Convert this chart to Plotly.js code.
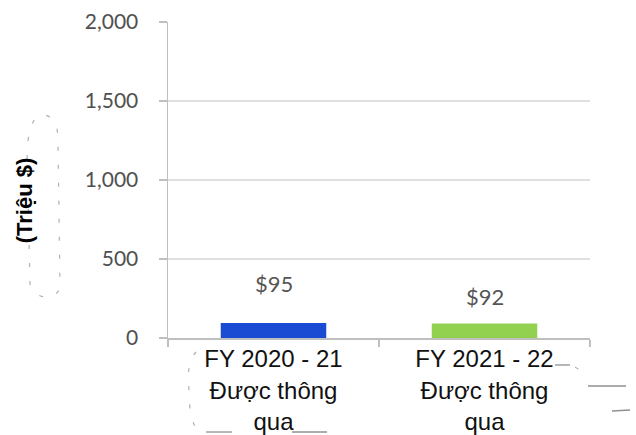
<!DOCTYPE html>
<html>
<head>
<meta charset="utf-8">
<script src="https://cdn.plot.ly/plotly-3.0.1.min.js"></script>
<style>html,body{margin:0;padding:0;background:#fff;}#chart{width:636px;height:435px;}</style>
</head>
<body>
<div id="chart"></div>
<script>
const categories = ["FY 2020 - 21<br>Được thông<br>qua", "FY 2021 - 22<br>Được thông<br>qua"];
const values = [95, 92];
const valueLabels = ["$95", "$92"];
const barColors = ["#1a4bd3", "#92d050"];
const yTickVals = [0, 500, 1000, 1500, 2000];
const yTickText = ["0", "500", "1,000", "1,500", "2,000"];
const yTitle = "(Triệu $)";

const labelShift = [39, 27];

const trace = {
  type: "bar",
  x: categories,
  y: values,
  marker: {color: barColors},
  width: 0.5,
  hoverinfo: "skip"
};

const annotations = values.map((v, i) => ({
  x: categories[i], y: v, xref: "x", yref: "y",
  text: valueLabels[i], showarrow: false,
  yshift: labelShift[i], yanchor: "middle",
  font: {family: "Lato, 'Open Sans', sans-serif", size: 22, color: "#555555"}
}));
annotations.push({
  xref: "paper", yref: "paper", x: -0.338, y: 0.437,
  text: "<b>" + yTitle + "</b>", textangle: -90, showarrow: false,
  xanchor: "center", yanchor: "middle",
  font: {family: "'Liberation Sans', Arial, sans-serif", size: 22, color: "#000"}
});

// faint dotted scan artefacts around the titles (decoration only)
const L = 168, T = 22, W = 422, H = 316;
const P = (x, y) => ((x - L) / W).toFixed(4) + "," + ((T + H - y) / H).toFixed(4);
const dashLine = {color: "#b0b0b0", width: 1.2, dash: "4px,14px"};
const solidFaint = {color: "#909090", width: 1.3};
const shapes = [
  {type: "path", xref: "paper", yref: "paper", line: dashLine,
   path: "M" + P(30, 285) + " L" + P(27, 150) + " Q" + P(30, 112) + " " + P(45, 115) +
         " Q" + P(58, 118) + " " + P(58, 140) + " L" + P(60, 288) +
         " Q" + P(55, 298) + " " + P(47, 297) + " Q" + P(35, 297) + " " + P(30, 285)},
  {type: "path", xref: "paper", yref: "paper", line: dashLine,
   path: "M" + P(196, 352) + " Q" + P(186, 362) + " " + P(189, 390) +
         " Q" + P(189, 425) + " " + P(200, 432)},
  {type: "path", xref: "paper", yref: "paper", line: solidFaint,
   path: "M" + P(206, 432) + " L" + P(232, 432)},
  {type: "path", xref: "paper", yref: "paper", line: solidFaint,
   path: "M" + P(292, 432) + " L" + P(327, 432)},
  {type: "path", xref: "paper", yref: "paper", line: solidFaint,
   path: "M" + P(555, 365) + " L" + P(570, 365)},
  {type: "path", xref: "paper", yref: "paper", line: dashLine,
   path: "M" + P(575, 367) + " Q" + P(583, 372) + " " + P(588, 378)},
  {type: "path", xref: "paper", yref: "paper", line: solidFaint,
   path: "M" + P(588, 386) + " L" + P(626, 386)},
  {type: "path", xref: "paper", yref: "paper", line: solidFaint,
   path: "M" + P(612, 411) + " L" + P(630, 410)}
];

const layout = {
  width: 636, height: 435,
  margin: {l: 168, r: 46, t: 22, b: 97},
  paper_bgcolor: "#ffffff", plot_bgcolor: "#ffffff",
  showlegend: false,
  bargap: 0.5,
  xaxis: {
    type: "category",
    showline: true, linecolor: "#bfbfbf", linewidth: 1.5,
    ticks: "outside", tickson: "boundaries", ticklen: 7, tickcolor: "#bfbfbf", tickwidth: 1.5,
    showgrid: false, zeroline: false,
    tickfont: {family: "'Liberation Sans', Arial, sans-serif", size: 24, color: "#111"},
    ticklabelstandoff: -1
  },
  yaxis: {
    range: [0, 2000],
    tickvals: yTickVals, ticktext: yTickText,
    showline: true, linecolor: "#bfbfbf", linewidth: 1.5,
    ticks: "outside", ticklen: 8, tickcolor: "#bfbfbf", tickwidth: 1.5,
    showgrid: true, gridcolor: "#e0e0e0", gridwidth: 1.5,
    zeroline: false,
    tickfont: {family: "Lato, 'Open Sans', sans-serif", size: 21, color: "#505050"},
    ticklabelstandoff: 16
  },
  shapes: shapes,
  annotations: annotations
};

Plotly.newPlot("chart", [trace], layout, {staticPlot: true, displayModeBar: false});
</script>
</body>
</html>
